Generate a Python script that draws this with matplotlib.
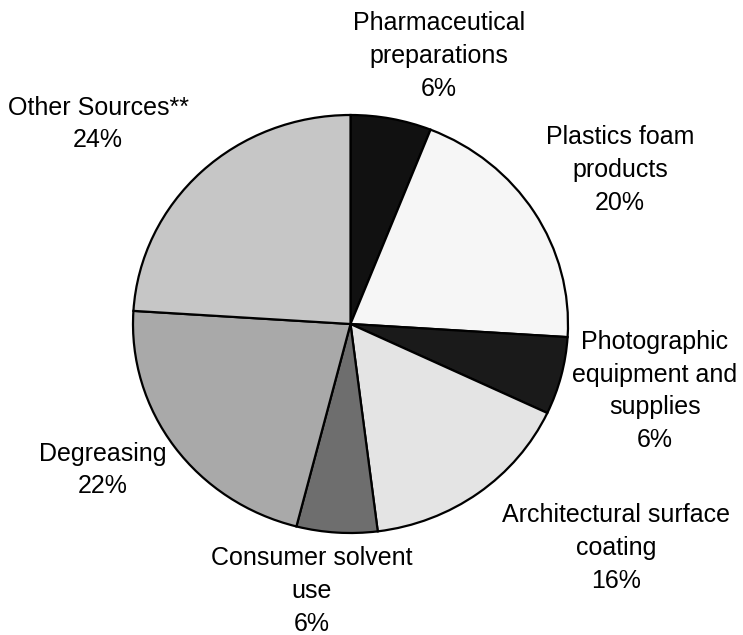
import matplotlib
matplotlib.use("Agg")
import matplotlib.pyplot as plt

plt.rcParams["font.family"] = ["Liberation Sans", "DejaVu Sans"]

labels = ["Pharmaceutical\npreparations", "Plastics foam\nproducts",
          "Photographic\nequipment and\nsupplies", "Architectural surface\ncoating",
          "Consumer solvent\nuse", "Degreasing", "Other Sources**"]
shares = [6, 20, 6, 16, 6, 22, 24]
colors = ["#111111", "#f6f6f6", "#1a1a1a", "#e4e4e4", "#6e6e6e", "#a9a9a9", "#c6c6c6"]

# label centres in pixels (x, y from top)
label_pos = [(439, 56), (620, 170), (655, 391), (616, 548), (312, 591), (103, 470), (98, 124)]

W, H = 743, 635
fig = plt.figure(figsize=(W / 100, H / 100), dpi=100)

# pie box in pixels: slightly wider than tall, like the original
left, right, top, bottom = 133, 568, 115, 533
axp = fig.add_axes([left / W, 1 - bottom / H, (right - left) / W, (bottom - top) / H])
axp.pie(shares, colors=colors, startangle=90, counterclock=False, radius=1,
        wedgeprops=dict(edgecolor="black", linewidth=1.6))
axp.set_aspect("auto")
axp.set_xlim(-1, 1); axp.set_ylim(-1, 1)
axp.axis("off")
for p in axp.patches:
    p.set_clip_on(False)

ax = fig.add_axes([0, 0, 1, 1], zorder=3)
ax.set_xlim(0, W); ax.set_ylim(H, 0)
ax.axis("off")
for lab, val, (x, y) in zip(labels, shares, label_pos):
    ax.text(x, y, "%s\n%d%%" % (lab, val), ha="center", va="center",
            fontsize=18, linespacing=1.46, color="black")

fig.savefig("out.png", dpi=100, facecolor="white")
